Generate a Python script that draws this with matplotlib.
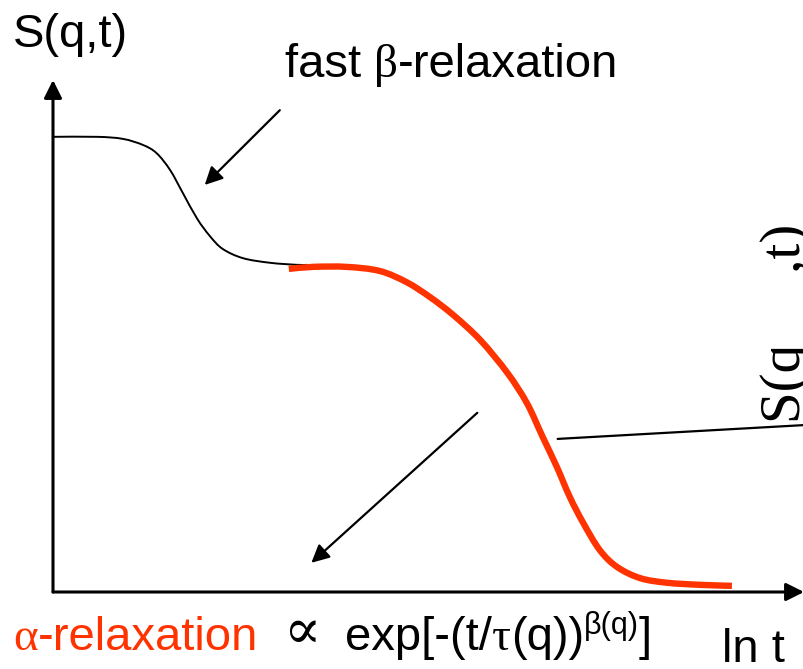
import matplotlib
matplotlib.use("Agg")
import numpy as np
import matplotlib.pyplot as plt
from matplotlib.path import Path
from matplotlib.patches import PathPatch
from matplotlib.transforms import Affine2D

# schematic S(q,t) vs ln t: fast beta step, then alpha decay
fast_t = [0.00, 0.59, 0.93, 1.20, 1.38, 1.56, 1.73, 1.92, 2.09, 2.26, 2.53, 2.89, 3.25, 3.38]
fast_s = [0.889, 0.889, 0.885, 0.873, 0.857, 0.824, 0.779, 0.729, 0.695, 0.670, 0.652, 0.643, 0.639, 0.639]

alpha_t = [3.14, 3.46, 3.91, 4.35, 4.71, 5.02, 5.33, 5.69, 6.05, 6.31, 6.52, 6.71,
           6.88, 7.06, 7.28, 7.51, 7.82, 8.18, 8.62, 9.04]
alpha_s = [0.631, 0.635, 0.635, 0.627, 0.605, 0.576, 0.541, 0.492, 0.428, 0.369, 0.303, 0.244,
           0.186, 0.135, 0.082, 0.049, 0.027, 0.018, 0.014, 0.012]

RED = "#ff3300"
SANS = "Liberation Sans"
SERIF = "Liberation Serif"
W, H = 804, 669


def smooth_path(xs, ys):
    # Catmull-Rom through the points, written as cubic Bezier segments
    p = np.column_stack([xs, ys])
    q = np.vstack([p[0], p, p[-1]])
    verts, codes = [p[0]], [Path.MOVETO]
    for i in range(len(p) - 1):
        a, b, c, d = q[i], q[i + 1], q[i + 2], q[i + 3]
        verts += [b + (c - a) / 6, c - (d - b) / 6, c]
        codes += [Path.CURVE4] * 3
    return Path(verts, codes)


fig = plt.figure(figsize=(W / 100, H / 100), dpi=100)
ax = fig.add_axes([53 / W, 77 / H, 751 / W, 512 / H])
ax.set_xlim(0, 10)
ax.set_ylim(0, 1)
ax.axis("off")

# pixel coordinates measured from the top-left corner, for the labels
px = Affine2D().scale(1 / W, -1 / H).translate(0, 1) + fig.transFigure

head = "-|>,head_length=0.6,head_width=0.3"
for tip in [(0, 1), (1, 0)]:
    ax.annotate("", xy=tip, xytext=(0, 0), xycoords="axes fraction",
                arrowprops=dict(arrowstyle=head, mutation_scale=18, lw=2.2,
                                color="black", shrinkA=0, shrinkB=0))

ax.add_patch(PathPatch(smooth_path(fast_t, fast_s), fill=False, edgecolor="black",
                       lw=1.4, capstyle="butt"))
ax.add_patch(PathPatch(smooth_path(alpha_t, alpha_s), fill=False, edgecolor=RED,
                       lw=4.6, capstyle="butt", joinstyle="round"))

# pointers
ax.annotate("", xy=(2.02, 0.795), xytext=(3.02, 0.941),
            arrowprops=dict(arrowstyle=head, mutation_scale=18, lw=1.6,
                            color="black", shrinkA=0, shrinkB=0))
ax.annotate("", xy=(3.44, 0.057), xytext=(5.65, 0.350),
            arrowprops=dict(arrowstyle=head, mutation_scale=18, lw=1.6,
                            color="black", shrinkA=0, shrinkB=0))
ax.annotate("", xy=(10.0, 0.326), xytext=(6.72, 0.299), annotation_clip=False,
            arrowprops=dict(arrowstyle="-", lw=1.6, color="black", shrinkA=0, shrinkB=0))

renderer = fig.canvas.get_renderer()


def write_run(x, y, pieces):
    # lay text pieces side by side on one baseline
    for s, kw in pieces:
        kw = dict(kw)
        yy = kw.pop("y", y)
        t = fig.text(x, yy, s, transform=px, ha="left", va="baseline", **kw)
        x = t.get_window_extent(renderer).x1
    return x


big = 34
sans = dict(family=SANS, size=big)
serif = dict(family=SERIF, size=big)

fig.text(13, 47, "S(q,t)", transform=px, ha="left", va="baseline", **sans)

write_run(285, 77, [("fast ", sans), ("β", serif), ("-relaxation", sans)])

write_run(13, 650, [("α", dict(serif, color=RED)), ("-relaxation", dict(sans, color=RED))])
fig.text(283, 648, "∝", transform=px, ha="left", va="baseline",
         family="DejaVu Serif", size=40)
write_run(345, 650, [("exp[-(t/", sans), ("τ", serif), ("(q))", sans),
                     ("β(q)", dict(family=SANS, size=22, y=634)), ("]", sans)])

fig.text(722, 662, "ln t", transform=px, ha="left", va="baseline", **sans)

fig.text(800, 423, "S(q     ,t)", transform=px, rotation=90, rotation_mode="anchor",
         ha="left", va="baseline", family=SERIF, size=41)

fig.savefig("out.png", dpi=100)
